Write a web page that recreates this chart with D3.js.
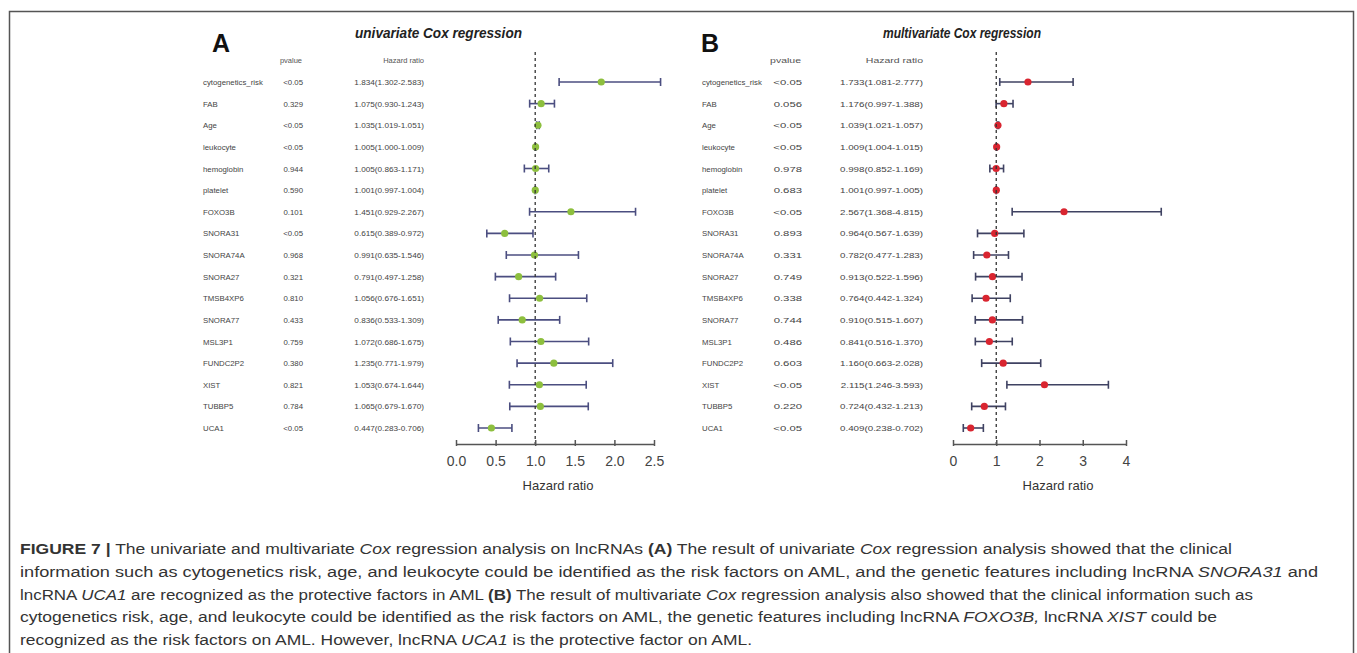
<!DOCTYPE html>
<html>
<head>
<meta charset="utf-8">
<script src="https://cdn.jsdelivr.net/npm/d3@7"></script>
<style>
  html, body { margin: 0; padding: 0; background: #fff; }
  svg { display: block; font-family: "Liberation Sans", Arial, sans-serif; }
</style>
</head>
<body>
<svg id="fig" width="1357" height="653"></svg>
<script>
// ---- data ----
const variables = ["cytogenetics_risk", "FAB", "Age", "leukocyte", "hemoglobin", "platelet",
  "FOXO3B", "SNORA31", "SNORA74A", "SNORA27", "TMSB4XP6", "SNORA77", "MSL3P1",
  "FUNDC2P2", "XIST", "TUBBP5", "UCA1"];

// univariate Cox regression
const uniP   = ["<0.05", "0.329", "<0.05", "<0.05", "0.944", "0.590", "0.101", "<0.05", "0.968",
  "0.321", "0.810", "0.433", "0.759", "0.380", "0.821", "0.784", "<0.05"];
const uniHR  = [1.834, 1.075, 1.035, 1.005, 1.005, 1.001, 1.451, 0.615, 0.991, 0.791, 1.056, 0.836, 1.072, 1.235, 1.053, 1.065, 0.447];
const uniLow = [1.302, 0.930, 1.019, 1.000, 0.863, 0.997, 0.929, 0.389, 0.635, 0.497, 0.676, 0.533, 0.686, 0.771, 0.674, 0.679, 0.283];
const uniHigh= [2.583, 1.243, 1.051, 1.009, 1.171, 1.004, 2.267, 0.972, 1.546, 1.258, 1.651, 1.309, 1.675, 1.979, 1.644, 1.670, 0.706];
const uniTicks = [0, 0.5, 1, 1.5, 2, 2.5];

// multivariate Cox regression
const multiP   = ["<0.05", "0.056", "<0.05", "<0.05", "0.978", "0.683", "<0.05", "0.893", "0.331",
  "0.749", "0.338", "0.744", "0.486", "0.603", "<0.05", "0.220", "<0.05"];
const multiHR  = [1.733, 1.176, 1.039, 1.009, 0.998, 1.001, 2.567, 0.964, 0.782, 0.913, 0.764, 0.910, 0.841, 1.160, 2.115, 0.724, 0.409];
const multiLow = [1.081, 0.997, 1.021, 1.004, 0.852, 0.997, 1.368, 0.567, 0.477, 0.522, 0.442, 0.515, 0.516, 0.663, 1.246, 0.432, 0.238];
const multiHigh= [2.777, 1.388, 1.057, 1.015, 1.169, 1.005, 4.815, 1.639, 1.283, 1.596, 1.324, 1.607, 1.370, 2.028, 3.593, 1.213, 0.702];
const multiTicks = [0, 1, 2, 3, 4];

// caption: each line is a list of [style, text] runs
const captionLines = [
  [["b", "FIGURE 7 |"], ["n", " The univariate and multivariate "], ["i", "Cox"], ["n", " regression analysis on lncRNAs "], ["b", "(A)"], ["n", " The result of univariate "], ["i", "Cox"], ["n", " regression analysis showed that the clinical"]],
  [["n", "information such as cytogenetics risk, age, and leukocyte could be identified as the risk factors on AML, and the genetic features including lncRNA "], ["i", "SNORA31"], ["n", " and"]],
  [["n", "lncRNA "], ["i", "UCA1"], ["n", " are recognized as the protective factors in AML "], ["b", "(B)"], ["n", " The result of multivariate "], ["i", "Cox"], ["n", " regression analysis also showed that the clinical information such as"]],
  [["n", "cytogenetics risk, age, and leukocyte could be identified as the risk factors on AML, the genetic features including lncRNA "], ["i", "FOXO3B,"], ["n", " lncRNA "], ["i", "XIST"], ["n", " could be"]],
  [["n", "recognized as the risk factors on AML. However, lncRNA "], ["i", "UCA1"], ["n", " is the protective factor on AML."]]
];
const captionWidths = [1212, 1298, 1233, 1197, 732];

// ---- drawing ----
const svg = d3.select("#fig");
const fmt = d3.format(".3f");

// figure frame
svg.append("rect")
  .attr("x", 9.5).attr("y", 11.5).attr("width", 1344).attr("height", 700)
  .attr("fill", "none").attr("stroke", "#555").attr("stroke-width", 1.5);

// widen a text element horizontally by a factor
function stretch(sel, k) {
  if (k === 1) return;
  sel.each(function () {
    const len = this.getComputedTextLength();
    d3.select(this).attr("textLength", len * k).attr("lengthAdjust", "spacingAndGlyphs");
  });
}

function forestPanel(cfg) {
  const g = svg.append("g");
  const y = d3.scalePoint().domain(variables).range([82, 428]);
  const x = d3.scaleLinear().domain(cfg.domain).range(cfg.range);

  g.append("text").attr("x", cfg.letterX).attr("y", 52)
    .attr("font-size", 25).attr("font-weight", "bold").attr("fill", "#111").text(cfg.letter);

  g.append("text").attr("x", cfg.titleX).attr("y", 38)
    .attr("font-size", 15).attr("font-weight", "bold").attr("font-style", "italic")
    .attr("fill", "#222").attr("textLength", cfg.titleW).attr("lengthAdjust", "spacingAndGlyphs")
    .text(cfg.title);

  // table columns
  g.append("text").attr("x", cfg.pX - 1).attr("y", 63).attr("text-anchor", "end")
    .attr("font-size", 7.5).attr("fill", "#555").text("pvalue")
    .call(stretch, cfg.numStretch);
  g.append("text").attr("x", cfg.hrX).attr("y", 63).attr("text-anchor", "end")
    .attr("font-size", 7.5).attr("fill", "#555").text("Hazard ratio")
    .call(stretch, cfg.numStretch);

  const rows = g.selectAll("g.row").data(variables.map((v, i) => ({
    v, p: cfg.p[i], hr: cfg.hr[i], lo: cfg.lo[i], hi: cfg.hi[i]
  }))).join("g").attr("class", "row");

  rows.append("text").attr("x", cfg.labelX).attr("y", d => y(d.v) + 3)
    .attr("font-size", 7.8).attr("fill", "#444").text(d => d.v);
  rows.append("text").attr("x", cfg.pX).attr("y", d => y(d.v) + 3).attr("text-anchor", "end")
    .attr("font-size", 7.8).attr("fill", "#444").text(d => d.p)
    .call(stretch, cfg.pStretch);
  rows.append("text").attr("x", cfg.hrX).attr("y", d => y(d.v) + 3).attr("text-anchor", "end")
    .attr("font-size", 7.8).attr("fill", "#444")
    .text(d => `${fmt(d.hr)}(${fmt(d.lo)}-${fmt(d.hi)})`)
    .call(stretch, cfg.hrStretch);

  // reference line at HR = 1
  g.append("line").attr("x1", x(1)).attr("x2", x(1)).attr("y1", 52).attr("y2", 444)
    .attr("stroke", "#333").attr("stroke-width", 1.3).attr("stroke-dasharray", "3,3");

  // confidence intervals
  rows.append("line").attr("x1", d => x(d.lo)).attr("x2", d => x(d.hi))
    .attr("y1", d => y(d.v)).attr("y2", d => y(d.v))
    .attr("stroke", cfg.lineColor).attr("stroke-width", 1.6);
  ["lo", "hi"].forEach(k => {
    rows.append("line").attr("x1", d => x(d[k])).attr("x2", d => x(d[k]))
      .attr("y1", d => y(d.v) - 4).attr("y2", d => y(d.v) + 4)
      .attr("stroke", cfg.lineColor).attr("stroke-width", 1.6);
  });
  rows.append("circle").attr("cx", d => x(d.hr)).attr("cy", d => y(d.v)).attr("r", 3.6)
    .attr("fill", cfg.pointColor);

  // x axis
  const axis = g.append("g").attr("transform", "translate(0,444)")
    .call(d3.axisBottom(x).tickValues(cfg.ticks).tickFormat(cfg.tickFormat).tickSize(6).tickSizeOuter(0));
  axis.select(".domain").attr("stroke", "#555").attr("stroke-width", 1.5);
  axis.selectAll(".tick line").attr("stroke", "#555").attr("stroke-width", 1.5)
    .attr("y1", -4).attr("y2", 2);
  axis.selectAll(".tick text").attr("font-size", 14).attr("fill", "#444")
    .attr("font-family", "Liberation Sans, Arial, sans-serif").attr("y", 12);

  g.append("text").attr("x", cfg.axisLabelX).attr("y", 490).attr("text-anchor", "middle")
    .attr("font-size", 13).attr("fill", "#333").text("Hazard ratio");
}

forestPanel({
  letter: "A", letterX: 212, title: "univariate Cox regression", titleX: 355, titleW: 167,
  labelX: 203, pX: 303, hrX: 424, numStretch: 1, pStretch: 1, hrStretch: 1.05,
  p: uniP, hr: uniHR, lo: uniLow, hi: uniHigh,
  domain: [0, 2.5], range: [456, 654], ticks: uniTicks, tickFormat: d3.format(".1f"),
  lineColor: "#4b4e80", pointColor: "#8dbf3e", axisLabelX: 558
});

forestPanel({
  letter: "B", letterX: 701, title: "multivariate Cox regression", titleX: 883, titleW: 158,
  labelX: 702, pX: 802, hrX: 923, numStretch: 1.4, pStretch: 1.45, hrStretch: 1.25,
  p: multiP, hr: multiHR, lo: multiLow, hi: multiHigh,
  domain: [0, 4], range: [953, 1126], ticks: multiTicks, tickFormat: d3.format("d"),
  lineColor: "#3f4262", pointColor: "#d92530", axisLabelX: 1058
});

// caption
const cap = svg.append("g");
captionLines.forEach((runs, i) => {
  const t = cap.append("text").attr("x", 20).attr("y", 554 + i * 22.8)
    .attr("font-size", 15.5).attr("fill", "#333")
    .attr("textLength", captionWidths[i]).attr("lengthAdjust", "spacingAndGlyphs");
  runs.forEach(([s, txt]) => {
    t.append("tspan")
      .attr("font-weight", s === "b" ? "bold" : null)
      .attr("font-style", s === "i" ? "italic" : null)
      .text(txt);
  });
});
</script>
</body>
</html>
